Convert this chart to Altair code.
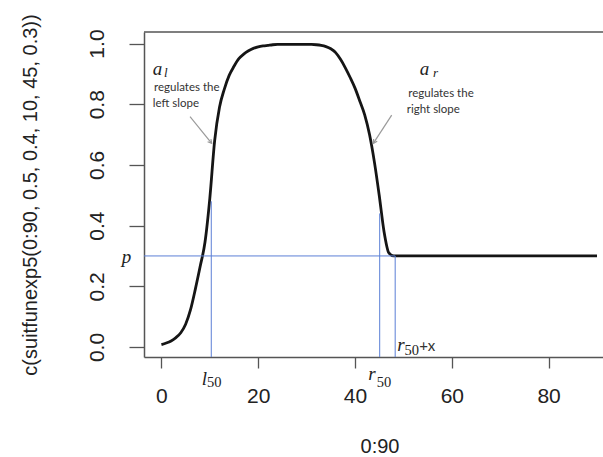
import altair as alt
import pandas as pd

# ---- curve values (x = 0:90) ----
curve_x = list(range(0, 91))
curve_y = (
    [0.008, 0.013, 0.020, 0.031, 0.047, 0.075, 0.122, 0.19, 0.265, 0.345,
     0.49, 0.68, 0.79, 0.85, 0.895, 0.925, 0.95, 0.965, 0.976, 0.984,
     0.989, 0.992, 0.994, 0.996, 0.997, 0.997, 0.997, 0.997, 0.997, 0.997,
     0.997, 0.997, 0.996, 0.994, 0.99, 0.983, 0.97, 0.948, 0.92, 0.888,
     0.853, 0.81, 0.765, 0.70, 0.61, 0.50, 0.38, 0.31]
    + [0.30] * 43
)

# ---- blue guide segments (p, l50, r50, r50+x) ----
seg_x = [-3.6, 10.3, 45.1, 48.3]
seg_y = [0.30, -0.033, -0.033, -0.033]
seg_x2 = [48.3, 10.3, 45.1, 48.3]
seg_y2 = [0.30, 0.48, 0.44, 0.30]

# ---- annotation texts ----
sym_text = ["a", "a", "p", "l", "r", "r"]
sym_x = [-1.8, 53.4, -8.2, 8.33, 42.75, 48.74]
sym_y = [0.896, 0.896, 0.278, -0.125, -0.109, -0.012]

subit_text = ["l", "r"]
subit_x = [0.55, 56.1]
subit_y = [0.89, 0.89]

subnum_text = ["50", "50", "50"]
subnum_x = [9.42, 44.5, 50.2]
subnum_y = [-0.132, -0.131, -0.026]

note_text = ["regulates the", "left  slope", "regulates the", "right slope", "+x"]
note_x = [-1.53, -1.8, 51.0, 50.7, 53.25]
note_y = [0.845, 0.791, 0.824, 0.771, -0.012]
note_size = [11.5, 11.5, 11.5, 11.5, 15]

arrow_x = [5.91, 47.58]
arrow_y = [0.759, 0.764]
arrow_x2 = [10.39, 43.78]
arrow_y2 = [0.671, 0.671]
arrow_angle = [140.8, 213.0]

x_ticks = [0, 20, 40, 60, 80]
y_ticks = [0.0, 0.2, 0.4, 0.6, 0.8, 1.0]

W, H = 459, 325

curve_df = pd.DataFrame({"x": curve_x, "y": curve_y})
seg_df = pd.DataFrame({"x": seg_x, "y": seg_y, "x2": seg_x2, "y2": seg_y2})
sym_df = pd.DataFrame({"x": sym_x, "y": sym_y, "t": sym_text})
subit_df = pd.DataFrame({"x": subit_x, "y": subit_y, "t": subit_text})
subnum_df = pd.DataFrame({"x": subnum_x, "y": subnum_y, "t": subnum_text})
note_df = pd.DataFrame({"x": note_x, "y": note_y, "t": note_text, "s": note_size})
arrow_df = pd.DataFrame({"x": arrow_x, "y": arrow_y, "x2": arrow_x2, "y2": arrow_y2, "a": arrow_angle})

xs = alt.Scale(domain=[-3.6, 91.24], nice=False, zero=False)
ys = alt.Scale(domain=[-0.033, 1.038], nice=False, zero=False)

FONT = "Liberation Sans"
SERIF = "Liberation Serif"
AX = "#555555"

x_axis = alt.Axis(
    values=x_ticks, grid=False, tickSize=11, tickWidth=1.3, tickColor=AX,
    domainColor=AX, domainWidth=1.5, labelFont=FONT, labelFontSize=21,
    labelColor="#222222", labelBaseline="alphabetic", labelPadding=34,
    labelFlush=False, title="0:90", titleFont=FONT, titleFontSize=20,
    titleFontWeight="normal", titleColor="#222222", titleX=235.5, titleY=95,
    titleBaseline="alphabetic", titleAlign="center",
)
y_axis = alt.Axis(
    values=y_ticks, format=".1f", grid=False, tickSize=15, tickWidth=1.3,
    tickColor=AX, domainColor=AX, domainWidth=1.5, labelFont=FONT,
    labelFontSize=21, labelColor="#222222", labelAngle=-90, labelAlign="center",
    labelBaseline="alphabetic", labelPadding=26, labelFlush=False,
    title="c(suitfunexp5(0:90, 0.5, 0.4, 10, 45, 0.3))", titleFont=FONT,
    titleFontSize=20, titleFontWeight="normal", titleColor="#222222",
    titleAngle=-90, titleX=-108, titleY=162.5, titleBaseline="alphabetic",
    titleAlign="center",
)


def X(field="x"):
    return alt.X(f"{field}:Q", scale=xs, axis=x_axis)


def Y(field="y"):
    return alt.Y(f"{field}:Q", scale=ys, axis=y_axis)


guides = alt.Chart(seg_df).mark_rule(color="#5b7fd6", strokeWidth=1).encode(
    x=X(), y=Y(), x2="x2:Q", y2="y2:Q",
)

curve = alt.Chart(curve_df).mark_line(
    color="#151515", strokeWidth=2.8, interpolate="monotone"
).encode(x=X(), y=Y())

top_border = alt.Chart(pd.DataFrame({"k": [0]})).mark_rule(color=AX, strokeWidth=1.5).encode(
    x=alt.value(0), x2=alt.value(W), y=alt.value(0)
)

arrows = alt.Chart(arrow_df).mark_rule(color="#9a9a9a", strokeWidth=1.2).encode(
    x=X(), y=Y(), x2="x2:Q", y2="y2:Q",
)
heads = alt.Chart(arrow_df).mark_point(
    shape="M -0.55 1 L 0 0 L 0.55 1", filled=False, stroke="#9a9a9a",
    strokeWidth=1.2, size=60, opacity=1,
).encode(x=X("x2"), y=Y("y2"), angle=alt.Angle("a:Q", scale=None))

sym = alt.Chart(sym_df).mark_text(
    font=SERIF, fontStyle="italic", fontSize=19, align="left",
    baseline="alphabetic", color="#222222",
).encode(x=X(), y=Y(), text="t:N")

subit = alt.Chart(subit_df).mark_text(
    font=SERIF, fontStyle="italic", fontSize=13, align="left",
    baseline="alphabetic", color="#222222",
).encode(x=X(), y=Y(), text="t:N")

subnum = alt.Chart(subnum_df).mark_text(
    font=SERIF, fontSize=14.5, align="left", baseline="alphabetic", color="#222222",
).encode(x=X(), y=Y(), text="t:N")

notes = alt.Chart(note_df).mark_text(
    font="Lato", align="left", baseline="alphabetic", color="#333333",
).encode(x=X(), y=Y(), text="t:N", size=alt.Size("s:Q", scale=None, legend=None))

chart = alt.layer(
    curve, guides, top_border, arrows, heads, sym, subit, subnum, notes
).properties(
    width=W, height=H,
    padding={"left": 144, "top": 32, "right": 0, "bottom": 100},
    autosize=alt.AutoSizeParams(type="none"),
    background="white",
).configure_view(stroke=None)

chart.save("out.html", embed_options={"renderer": "svg", "actions": False})
